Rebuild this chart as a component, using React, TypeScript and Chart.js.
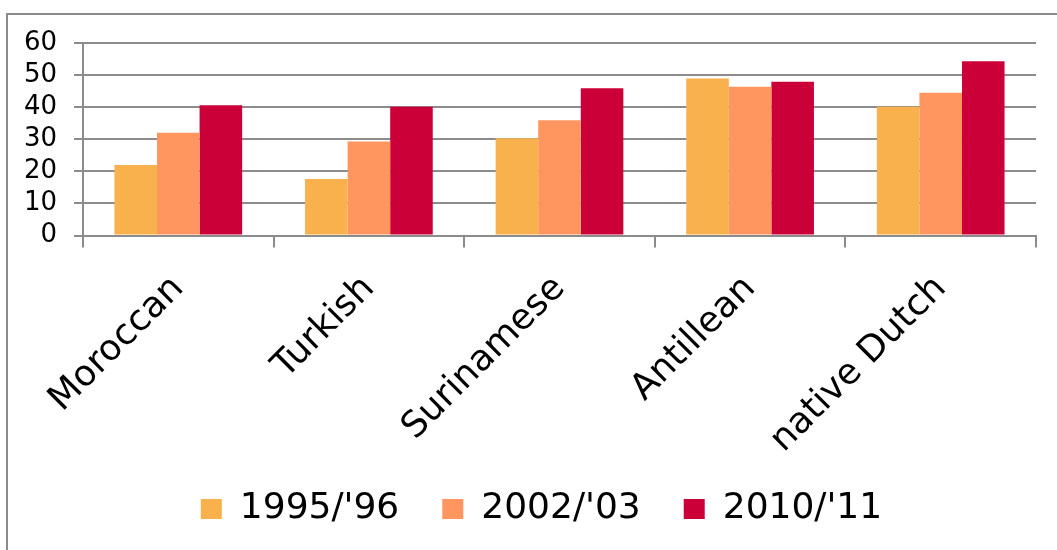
import React, { useEffect, useRef } from "react";
import { Chart, registerables } from "chart.js";

Chart.register(...registerables);

const categories = ["Moroccan", "Turkish", "Surinamese", "Antillean", "native Dutch"];
const seriesLabels = ["1995/'96", "2002/'03", "2010/'11"];
const values1995 = [22, 17.6, 30.3, 48.9, 40.1];
const values2002 = [32, 29.3, 35.9, 46.4, 44.5];
const values2010 = [40.6, 40.1, 45.9, 47.9, 54.3];
const seriesColors = ["#F8B14C", "#FF9660", "#CC0039"];
const yMin = 0;
const yMax = 60;
const yStep = 10;

const GRID = "#8c8c8c";
const FONT = "'DejaVu Sans', Verdana, sans-serif";

const framePlugin = {
  id: "frame",
  beforeDraw(chart: any) {
    const ctx = chart.ctx;
    ctx.save();
    ctx.fillStyle = "#ffffff";
    ctx.fillRect(0, 0, chart.width, chart.height);
    ctx.strokeStyle = GRID;
    ctx.lineWidth = 2;
    ctx.beginPath();
    ctx.moveTo(7, chart.height);
    ctx.lineTo(7, 14);
    ctx.lineTo(chart.width, 14);
    ctx.stroke();
    ctx.restore();
  },
};

const legendShiftPlugin = {
  id: "legendShift",
  afterLayout(chart: any) {
    const lg = chart.legend;
    if (!lg) return;
    const dx = 19.5;
    const dy = -10;
    lg.left += dx;
    lg.right += dx;
    lg.top += dy;
    lg.bottom += dy;
  },
};

export default function App() {
  const ref = useRef<HTMLCanvasElement | null>(null);

  useEffect(() => {
    document.body.style.margin = "0";
    const canvas = ref.current;
    if (!canvas) return;
    const data = [values1995, values2002, values2010];
    const chart = new Chart(canvas, {
      type: "bar",
      data: {
        labels: categories,
        datasets: seriesLabels.map((label, i) => ({
          label,
          data: data[i],
          backgroundColor: seriesColors[i],
          borderWidth: 0,
          categoryPercentage: 0.67,
          barPercentage: 1.0,
        })),
      },
      plugins: [framePlugin, legendShiftPlugin],
      options: {
        responsive: false,
        animation: false,
        layout: { padding: { left: 8, right: 21, top: 43, bottom: 3 } },
        plugins: {
          tooltip: { enabled: false },
          legend: {
            position: "bottom",
            labels: {
              boxWidth: 21,
              boxHeight: 20,
              padding: 43,
              color: "#000",
              font: { family: FONT, size: 36 },
            },
          },
        },
        scales: {
          x: {
            grid: {
              display: true,
              drawOnChartArea: false,
              drawTicks: true,
              tickLength: 12,
              color: GRID,
              lineWidth: 2,
              offset: true,
            },
            border: { display: true, color: GRID, width: 2 },
            ticks: {
              minRotation: 45,
              maxRotation: 45,
              autoSkip: false,
              padding: 20,
              color: "#000",
              font: { family: FONT, size: 36 },
            },
            afterFit(scale: any) {
              scale.height = 222.5;
            },
          },
          y: {
            min: yMin,
            max: yMax,
            grid: {
              color: GRID,
              lineWidth: 2,
              tickLength: 9,
            },
            border: { display: true, color: GRID, width: 2 },
            ticks: {
              stepSize: yStep,
              autoSkip: false,
              padding: 17,
              color: "#000",
              font: { family: FONT, size: 26 },
            },
            afterFit(scale: any) {
              scale.width = 75;
            },
          },
        },
      },
    });
    return () => chart.destroy();
  }, []);

  return (
    <div style={{ position: "absolute", left: 0, top: 0, width: 1057, height: 550 }}>
      <canvas ref={ref} width={1057} height={550} style={{ display: "block" }} />
    </div>
  );
}
